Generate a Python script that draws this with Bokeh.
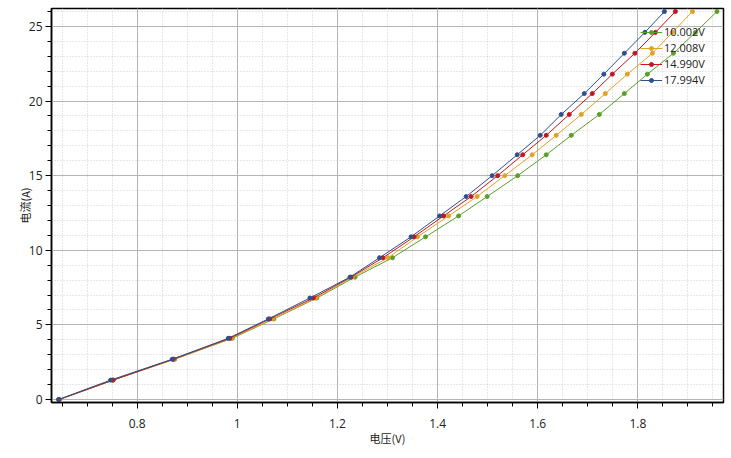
from bokeh.plotting import figure
from bokeh.models import FixedTicker, Legend, LegendItem, Range1d
from bokeh.embed import file_html
from bokeh.resources import INLINE

# ---- data ----
current = [0, 1.3, 2.7, 4.1, 5.4, 6.8, 8.2, 9.5, 10.9, 12.3, 13.6, 15.0, 16.4,
           17.7, 19.1, 20.5, 21.8, 23.2, 24.6, 26.0]
v_10002 = [0.645, 0.752, 0.875, 0.990, 1.073, 1.159, 1.235, 1.310, 1.376, 1.442,
           1.499, 1.560, 1.617, 1.667, 1.723, 1.773, 1.819, 1.871, 1.915, 1.958]
v_12008 = [0.644, 0.750, 0.873, 0.988, 1.071, 1.157, 1.230, 1.301, 1.360, 1.422,
           1.479, 1.534, 1.589, 1.637, 1.687, 1.735, 1.779, 1.829, 1.869, 1.909]
v_14990 = [0.644, 0.752, 0.872, 0.985, 1.065, 1.152, 1.227, 1.291, 1.353, 1.412,
           1.467, 1.520, 1.570, 1.617, 1.663, 1.709, 1.749, 1.794, 1.835, 1.875]
v_17994 = [0.643, 0.747, 0.870, 0.982, 1.062, 1.145, 1.225, 1.284, 1.347, 1.404,
           1.457, 1.509, 1.559, 1.605, 1.647, 1.693, 1.732, 1.773, 1.814, 1.853]
series_names = ["10.002V", "12.008V", "14.990V", "17.994V"]
series_colors = ["#5b9f2b", "#dea324", "#c3161f", "#2f4f8e"]

x_ticks = [0.8, 1.0, 1.2, 1.4, 1.6, 1.8]
x_tick_labels = ["0.8", "1", "1.2", "1.4", "1.6", "1.8"]
y_ticks = [0, 5, 10, 15, 20, 25]
y_tick_labels = ["0", "5", "10", "15", "20", "25"]
x_label = "电压(V)"
y_label = "电流(A)"

p = figure(width=726, height=452, output_backend="svg", toolbar_location=None,
           x_range=Range1d(0.629, 1.971), y_range=Range1d(-0.2, 26.2),
           min_border_left=51, min_border_right=3, min_border_top=8,
           min_border_bottom=50)
p.background_fill_color = "white"
p.border_fill_color = "white"
p.outline_line_color = "black"
p.outline_line_width = 1.5

renderers = []
for xs, name, col in zip([v_10002, v_12008, v_14990, v_17994], series_names, series_colors):
    l = p.line(xs, current, line_color=col, line_width=1)
    s = p.scatter(xs, current, size=4, fill_color=col, line_color=col)
    renderers.append((name, [l, s]))

x_minor = [round(0.65 + 0.05 * i, 3) for i in range(27)]
y_minor = list(range(0, 27))
p.xaxis.ticker = FixedTicker(ticks=x_ticks, minor_ticks=x_minor)
p.yaxis.ticker = FixedTicker(ticks=y_ticks, minor_ticks=y_minor)
p.xaxis.major_label_overrides = dict(zip(x_ticks, x_tick_labels))
p.yaxis.major_label_overrides = dict(zip(y_ticks, y_tick_labels))

for ax in (p.xaxis, p.yaxis):
    ax.axis_line_color = "black"
    ax.axis_line_width = 1.5
    ax.major_tick_line_color = "black"
    ax.minor_tick_line_color = "black"
    ax.major_tick_out = 6
    ax.major_tick_in = 0
    ax.minor_tick_out = 4
    ax.minor_tick_in = 0
    ax.major_label_text_font = "Open Sans"
    ax.major_label_text_font_size = "12px"
    ax.major_label_text_color = "#222222"
    ax.axis_label_text_font = "Noto Sans CJK SC"
    ax.axis_label_text_font_size = "11px"
    ax.axis_label_text_font_style = "normal"
    ax.axis_label_text_color = "#222222"
p.xaxis.axis_label = x_label
p.yaxis.axis_label = y_label
p.xaxis.major_label_standoff = 10
p.yaxis.major_label_standoff = 3
p.xaxis.axis_label_standoff = -1
p.yaxis.axis_label_standoff = -7

p.xgrid.ticker = FixedTicker(ticks=x_ticks, minor_ticks=x_minor)
p.ygrid.ticker = FixedTicker(ticks=y_ticks, minor_ticks=y_minor)
for g in (p.xgrid, p.ygrid):
    g.grid_line_color = "#b4b4b4"
    g.grid_line_width = 1
    g.minor_grid_line_color = "#cfcfcf"
    g.minor_grid_line_dash = "1 2"
    g.minor_grid_line_width = 1

legend = Legend(items=[LegendItem(label=n, renderers=r) for n, r in renderers],
                location=(589, 315))
legend.background_fill_alpha = 0
legend.border_line_alpha = 0
legend.label_text_font = "Open Sans"
legend.label_text_font_size = "11px"
legend.label_text_color = "#222222"
legend.glyph_width = 22
legend.glyph_height = 10
legend.label_height = 15
legend.label_standoff = 2
legend.spacing = 1
legend.padding = 0
legend.margin = 0
p.add_layout(legend)

open("out.html", "w").write(file_html(p, INLINE))
